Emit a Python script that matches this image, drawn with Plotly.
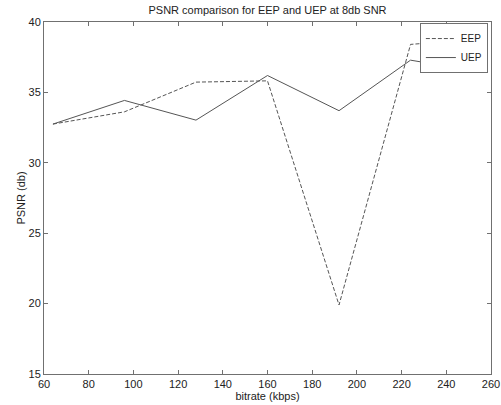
import plotly.graph_objects as go

bitrate = [64, 96, 128, 160, 192, 224, 256]
eep = [32.75, 33.62, 35.73, 35.82, 19.9, 38.41, 38.8]
uep = [32.75, 34.43, 33.03, 36.2, 33.7, 37.29, 36.44]

x_ticks = [60, 80, 100, 120, 140, 160, 180, 200, 220, 240, 260]
y_ticks = [15, 20, 25, 30, 35, 40]

line_col = "#555555"
axis_col = "#707070"
font = "Liberation Sans, Arial, sans-serif"

fig = go.Figure()
fig.add_trace(go.Scatter(x=bitrate, y=eep, mode="lines", name="EEP",
                         line=dict(color=line_col, width=1, dash="4px,2px")))
fig.add_trace(go.Scatter(x=bitrate, y=uep, mode="lines", name="UEP",
                         line=dict(color=line_col, width=1)))

axis_common = dict(showgrid=False, zeroline=False, showline=True, linecolor=axis_col,
                   linewidth=1, mirror="ticks", ticks="inside", ticklen=4,
                   tickcolor=axis_col, tickfont=dict(size=11, color="#222", family=font))

fig.update_xaxes(range=[60, 260], tickvals=x_ticks, ticktext=[str(v) for v in x_ticks],
                 title=dict(text="bitrate (kbps)", font=dict(size=11, color="#222", family=font), standoff=2),
                 **axis_common)
fig.update_yaxes(range=[15, 40], tickvals=y_ticks, ticktext=[str(v) for v in y_ticks],
                 title=dict(text="PSNR (db)", font=dict(size=11, color="#222", family=font), standoff=0),
                 **axis_common)

fig.update_layout(
    width=501, height=405,
    margin=dict(l=44, r=10, t=22, b=31, autoexpand=False),
    paper_bgcolor="white", plot_bgcolor="white",
    title=dict(text="PSNR comparison for EEP and UEP at 8db SNR", x=0.534, xanchor="center",
               y=0.975, yanchor="middle", font=dict(size=11, color="#222", family=font)),
    legend=dict(x=0.993, y=0.997, xanchor="right", yanchor="top", bgcolor="white",
                bordercolor=axis_col, borderwidth=1, itemwidth=30,
                font=dict(size=10, color="#222", family=font), tracegroupgap=0),
    showlegend=True,
)

fig.write_html("out.html", config={"displayModeBar": False},
               post_script="document.body.style.margin='0';document.body.style.overflow='hidden';")
